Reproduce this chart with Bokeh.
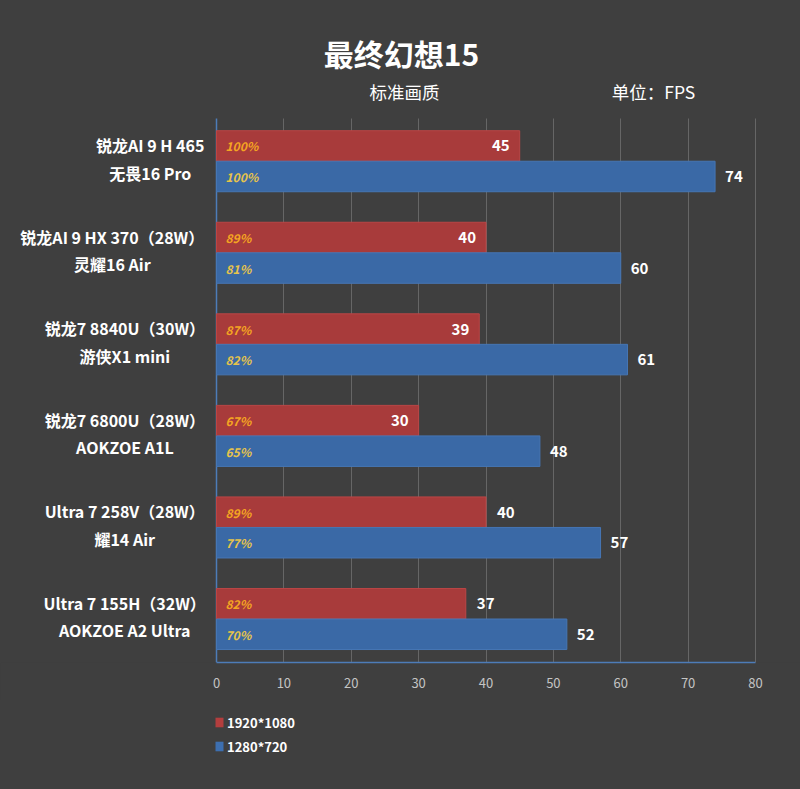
from bokeh.plotting import figure
from bokeh.layouts import column
from bokeh.models import Range1d, FixedTicker, Legend, LegendItem, Grid
from bokeh.core.properties import value
from bokeh.embed import file_html
from bokeh.resources import INLINE

title = "最终幻想15"
subtitle = "标准画质"
unit_text = "单位：FPS"
names_line1 = ["锐龙AI 9 H 465", "锐龙AI 9 HX 370（28W）", "锐龙7 8840U（30W）",
               "锐龙7 6800U（28W）", "Ultra 7 258V（28W）", "Ultra 7 155H（32W）"]
names_line2 = ["无畏16 Pro", "灵耀16 Air", "游侠X1 mini", "AOKZOE A1L", "耀14 Air", "AOKZOE A2 Ultra"]
series_names = ["1920*1080", "1280*720"]
fps_1080 = [45, 40, 39, 30, 40, 37]
fps_720 = [74, 60, 61, 48, 57, 52]
pct_1080 = ["100%", "89%", "87%", "67%", "89%", "82%"]
pct_720 = ["100%", "81%", "82%", "65%", "77%", "70%"]
x_ticks = [0, 10, 20, 30, 40, 50, 60, 70, 80]
# whether the 1080p value label sits inside the bar end
inside_1080 = [True, True, True, True, False, False]

FONT = "Noto Sans CJK SC"
BG = "#3f3f3f"
RED = "#a83b3b"
BLUE = "#3a69a6"
AXIS_BLUE = "#4d7cb8"
GRID = "#666666"

W, H = 800, 789
MAIN_H = 700
FL, FR, FT, FB = 216, 755, 118, 662        # pixel box of the value area
Y_TOP, Y_BOT = 0.2, 35.85                  # data units at FT / FB
px_per_x = (FR - FL) / 80.0
px_per_y = (FB - FT) / (Y_BOT - Y_TOP)

def dx(px):
    return (px - FL) / px_per_x

def dy(py):
    return Y_TOP + (py - FT) / px_per_y

p = figure(width=W, height=MAIN_H, output_backend="svg", toolbar_location=None,
           x_range=Range1d(dx(0), dx(W)), y_range=Range1d(Y_BOT, dy(0)),
           y_axis_location=None,
           min_border_left=0, min_border_right=0, min_border_top=0,
           min_border_bottom=MAIN_H - FB,
           background_fill_alpha=0, border_fill_color=BG,
           styles={"background-color": BG})
p.outline_line_color = None

n = len(names_line1)
y_red = [6 * i + 2 for i in range(n)]
y_blue = [6 * i + 4 for i in range(n)]

# grid lines limited to the value area
p.xgrid.ticker = FixedTicker(ticks=x_ticks[1:])
p.xgrid.grid_line_color = GRID
p.xgrid.cross_bounds = (Y_TOP, Y_BOT)
p.ygrid.grid_line_color = None
left_line = Grid(dimension=0, ticker=FixedTicker(ticks=[0]), grid_line_color=AXIS_BLUE,
                 grid_line_width=1.5, cross_bounds=(Y_TOP, Y_BOT))
p.add_layout(left_line)

r1 = p.hbar(y=y_red, left=0, right=fps_1080, height=2, fill_color=RED, line_color="#bb4646", line_width=1)
r2 = p.hbar(y=y_blue, left=0, right=fps_720, height=2, fill_color=BLUE, line_color="#4676b4", line_width=1)

# percentage labels
p.text(x=[0] * n, y=y_red, text=pct_1080, x_offset=9, text_align="left", text_baseline="middle",
       text_color="#f4a522", text_font=value(FONT), text_font_size="12px",
       text_font_style="bold italic")
p.text(x=[0] * n, y=y_blue, text=pct_720, x_offset=9, text_align="left", text_baseline="middle",
       text_color="#e6c44a", text_font=value(FONT), text_font_size="12px",
       text_font_style="bold italic")

# value labels
for yi, v, ins in zip(y_red, fps_1080, inside_1080):
    p.text(x=[v], y=[yi], text=[str(v)], x_offset=-10 if ins else 11,
           text_align="right" if ins else "left", text_baseline="middle",
           text_color="white", text_font=value(FONT), text_font_size="15px", text_font_style="bold")
p.text(x=fps_720, y=y_blue, text=[str(v) for v in fps_720], x_offset=10, text_align="left",
       text_baseline="middle", text_color="white", text_font=value(FONT), text_font_size="15px",
       text_font_style="bold")

# category labels: two lines centred on each other, block right-aligned
LABEL_FS = 16
def est_width(s, fs):
    w = 0.0
    for ch in s:
        o = ord(ch)
        if o >= 0x2E80:
            w += 1.0
        elif ch == " ":
            w += 0.24
        elif ch.isdigit():
            w += 0.57
        elif ch in "W":
            w += 0.92
        elif ch in "IilJ":
            w += 0.3
        elif ch == "m":
            w += 0.87
        elif ch.isupper():
            w += 0.68
        elif ch in "rt":
            w += 0.4
        else:
            w += 0.57
    return w * fs

RIGHT_EDGE = 203
cx, cy, ct = [], [], []
for i in range(n):
    wmax = max(est_width(names_line1[i], LABEL_FS), est_width(names_line2[i], LABEL_FS))
    c = dx(RIGHT_EDGE - wmax / 2)
    cx += [c, c]
    cy += [y_red[i] - 0.05, y_blue[i] - 0.25]
    ct += [names_line1[i], names_line2[i]]
p.text(x=cx, y=cy, text=ct, text_align="center", text_baseline="middle", text_color="white",
       text_font=value(FONT), text_font_size=f"{LABEL_FS}px", text_font_style="bold")

# header texts
p.text(x=[dx(401)], y=[dy(52)], text=[title], text_align="center", text_baseline="middle",
       text_color="white", text_font=value(FONT), text_font_size="30px", text_font_style="bold")
p.text(x=[dx(404), dx(653)], y=[dy(91), dy(91)], text=[subtitle, unit_text], text_align="center",
       text_baseline="middle", text_color="white", text_font=value(FONT), text_font_size="17.5px")

# x axis
p.xaxis.ticker = FixedTicker(ticks=x_ticks)
p.xaxis.bounds = (0, 80)
p.xaxis.major_tick_line_color = None
p.xaxis.minor_tick_line_color = None
p.xaxis.axis_line_color = AXIS_BLUE
p.xaxis.axis_line_width = 1.5
p.xaxis.major_label_text_color = "#c4c4c4"
p.xaxis.major_label_text_font = FONT
p.xaxis.major_label_text_font_size = "13px"
p.xaxis.major_label_standoff = 9

# legend strip (its keys use the same series, drawn out of view)
LEG_H = H - MAIN_H
q = figure(width=W, height=LEG_H, output_backend="svg", toolbar_location=None,
           x_range=Range1d(0, 1), y_range=Range1d(1000, 1001),
           x_axis_location=None, y_axis_location=None,
           min_border_left=0, min_border_right=0, min_border_top=0, min_border_bottom=0,
           background_fill_alpha=0, border_fill_color=BG,
           styles={"background-color": BG})
q.outline_line_color = None
q.grid.visible = False
k1 = q.hbar(y=y_red, left=0, right=fps_1080, height=2, fill_color="#b33e3e", line_color=None)
k2 = q.hbar(y=y_blue, left=0, right=fps_720, height=2, fill_color="#3d6fb0", line_color=None)
legend = Legend(items=[LegendItem(label=series_names[0], renderers=[k1], index=0),
                       LegendItem(label=series_names[1], renderers=[k2], index=0)],
                location=(FL - 2, LEG_H - 12 - 44), orientation="vertical", padding=0, margin=0,
                spacing=4, glyph_width=10, glyph_height=12, label_height=20, label_standoff=3,
                label_text_color="white", label_text_font=FONT, label_text_font_size="13px",
                label_text_font_style="bold", background_fill_alpha=0, border_line_color=None)
q.add_layout(legend, "center")

layout = column(p, q, spacing=0, styles={"background-color": BG})
open("out.html", "w").write(file_html(layout, INLINE))
